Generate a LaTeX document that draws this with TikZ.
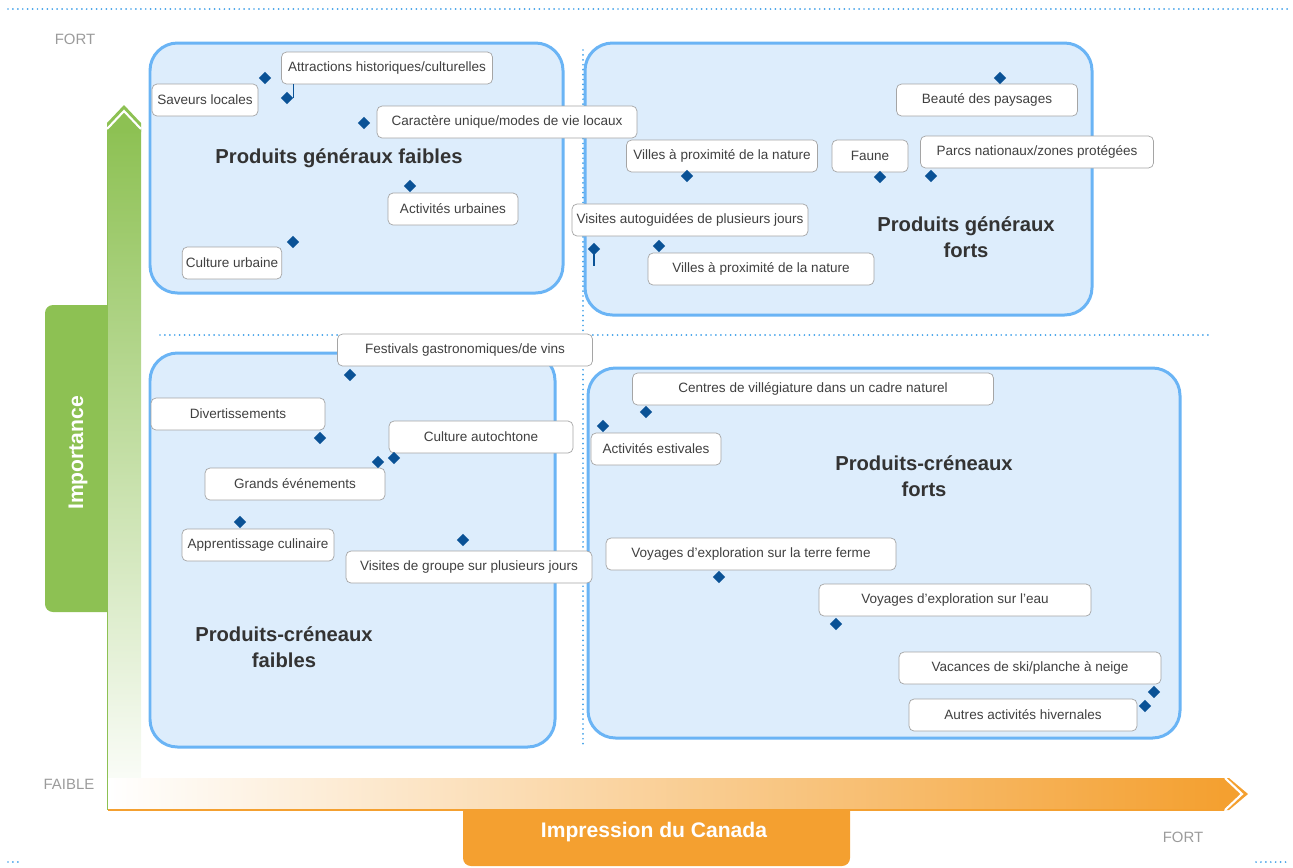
\documentclass[tikz,border=0pt]{standalone}
\usepackage{fontspec}
\setmainfont{Liberation Sans}
\usetikzlibrary{shapes.geometric}
\definecolor{quadfill}{RGB}{221,237,252}
\definecolor{quadline}{RGB}{106,180,245}
\definecolor{dotblue}{RGB}{64,160,232}
\definecolor{markblue}{RGB}{10,82,150}
\definecolor{lblline}{RGB}{165,165,165}
\definecolor{lbltext}{RGB}{64,64,64}
\definecolor{titlegray}{RGB}{51,51,51}
\definecolor{axgreen}{RGB}{141,193,83}
\definecolor{axorange}{RGB}{244,160,48}
\definecolor{axgray}{RGB}{155,155,155}

\begin{document}
\begin{tikzpicture}[x=0.02cm, y=-0.02cm,
    quad/.style={draw=quadline, line width=1.7pt, fill=quadfill, rounded corners=0.55cm},
    sep/.style={dotblue, line width=1.1pt, dash pattern=on 0pt off 2.8pt, line cap=round},
    lbl/.style={draw=lblline, fill=white, rounded corners=0.1cm, minimum height=0.64cm,
      inner xsep=2pt, text=lbltext, font=\fontsize{7.7}{9}\selectfont},
    dmd/.style={diamond, fill=markblue, inner sep=0pt, minimum size=0.25cm},
    lead/.style={markblue, line width=1pt},
    ttl/.style={align=center, text=titlegray, font=\fontsize{11.5}{14.7}\selectfont\bfseries},
    axtxt/.style={text=white, font=\fontsize{12}{14}\selectfont\bfseries},
    gradelbl/.style={text=axgray, font=\fontsize{8.5}{10}\selectfont}]
    \useasboundingbox (0,0) rectangle (1293,867);

    \draw[sep] (8,9) -- (1290,9);
    \draw[sep] (8,862) -- (20,862);
    \draw[sep] (1256,862) -- (1290,862);

    \fill[axgreen, rounded corners=0.16cm] (45,305) rectangle (115,612);
    \fill[axorange, rounded corners=0.16cm] (463,800) rectangle (850,866);
    \shade[top color=axgreen, bottom color=white] (107,128) rectangle (141,810);
    \draw[axgreen, line width=1pt] (107.5,128) -- (107.5,810);
    \fill[axgreen] (107,132) -- (107,123) -- (124,105) -- (141,123) -- (141,132) -- cycle;
    \draw[white, line width=1.2pt] (107,129) -- (124,111) -- (141,129);
    \shade[left color=white, right color=axorange] (108,778) rectangle (1224,810);
    \draw[axorange, line width=1pt] (108,810) -- (1224,810);
    \fill[axorange] (1220,778) -- (1229,778) -- (1248,794) -- (1229,810) -- (1220,810) -- cycle;
    \draw[white, line width=1.2pt] (1225,778) -- (1242,794) -- (1225,810);

    \node[gradelbl] (fortv) at (75,39) {FORT};
    \node[gradelbl] (faible) at (69,784) {FAIBLE};
    \node[gradelbl] (forth) at (1183,837) {FORT};
    \node[axtxt, rotate=90] (imp) at (78,453) {Importance};
    \node[axtxt] (impr) at (654,832) {Impression du Canada};

    \draw[quad] (150,43) rectangle (563,293);
    \draw[quad] (585,43) rectangle (1092,315);
    \draw[quad] (150,353) rectangle (555,747);
    \draw[quad] (588,368) rectangle (1180,738);

    \draw[sep] (160,335) -- (1212,335);
    \draw[sep] (583,50) -- (583,745);

    \node[ttl] (tgfaib) at (339,158) {Produits généraux faibles};
    \node[ttl] (tgfort) at (966,237) {Produits généraux\\forts};
    \node[ttl] (tcfaib) at (284,647) {Produits-créneaux\\faibles};
    \node[ttl] (tcfort) at (924,476) {Produits-créneaux\\forts};

    \node[lbl, minimum width=4.22cm] (attr) at (387,68) {Attractions historiques/culturelles};
    \node[lbl, minimum width=2.12cm] (saveurs) at (205,100) {Saveurs locales};
    \node[lbl, minimum width=5.2cm] (caract) at (507,122) {Caractère unique/modes de vie locaux};
    \node[lbl, minimum width=2.6cm] (urbact) at (453,209) {Activités urbaines};
    \node[lbl, minimum width=1.96cm] (urbcult) at (232,263) {Culture urbaine};
    \node[lbl, minimum width=3.62cm] (beaute) at (987,100) {Beauté des paysages};
    \node[lbl, minimum width=3.82cm] (villesa) at (722,156) {Villes à proximité de la nature};
    \node[lbl, minimum width=1.52cm] (faune) at (870,156) {Faune};
    \node[lbl, minimum width=4.66cm] (parcs) at (1037,152) {Parcs nationaux/zones protégées};
    \node[lbl, minimum width=4.72cm] (visauto) at (690,220) {Visites autoguidées de plusieurs jours};
    \node[lbl, minimum width=4.52cm] (villesb) at (761,269) {Villes à proximité de la nature};
    \node[lbl, minimum width=5.1cm] (festiv) at (465,350) {Festivals gastronomiques/de vins};
    \node[lbl, minimum width=3.48cm] (divert) at (238,414) {Divertissements};
    \node[lbl, minimum width=3.68cm] (autoch) at (481,437) {Culture autochtone};
    \node[lbl, minimum width=3.6cm] (grands) at (295,484) {Grands événements};
    \node[lbl, minimum width=3.04cm] (culin) at (258,545) {Apprentissage culinaire};
    \node[lbl, minimum width=4.92cm] (visgroupe) at (469,567) {Visites de groupe sur plusieurs jours};
    \node[lbl, minimum width=7.22cm] (centres) at (813,389) {Centres de villégiature dans un cadre naturel};
    \node[lbl, minimum width=2.6cm] (estiv) at (656,449) {Activités estivales};
    \node[lbl, minimum width=5.8cm] (terre) at (751,554) {Voyages d’exploration sur la terre ferme};
    \node[lbl, minimum width=5.44cm] (eau) at (955,600) {Voyages d’exploration sur l’eau};
    \node[lbl, minimum width=5.24cm] (ski) at (1030,668) {Vacances de ski/planche à neige};
    \node[lbl, minimum width=4.56cm] (hiver) at (1023,715) {Autres activités hivernales};

    \node[dmd] (msaveurs) at (265,78) {};
    \node[dmd] (mattr) at (287,98) {};
    \node[dmd] (mcaract) at (364,123) {};
    \node[dmd] (murbact) at (410,186) {};
    \node[dmd] (murbcult) at (293,242) {};
    \node[dmd] (mbeaute) at (1000,78) {};
    \node[dmd] (mvillesa) at (687,176) {};
    \node[dmd] (mfaune) at (880,177) {};
    \node[dmd] (mparcs) at (931,176) {};
    \node[dmd] (mvisauto) at (594,249) {};
    \node[dmd] (mvillesb) at (659,246) {};
    \node[dmd] (mfestiv) at (350,375) {};
    \node[dmd] (mdivert) at (320,438) {};
    \node[dmd] (mautoch) at (394,458) {};
    \node[dmd] (mgrands) at (378,462) {};
    \node[dmd] (mculin) at (240,522) {};
    \node[dmd] (mvisgroupe) at (463,540) {};
    \node[dmd] (mcentres) at (646,412) {};
    \node[dmd] (mestiv) at (603,426) {};
    \node[dmd] (mterre) at (719,577) {};
    \node[dmd] (meau) at (836,624) {};
    \node[dmd] (mski) at (1154,692) {};
    \node[dmd] (mhiver) at (1145,706) {};

    \coordinate (tattr) at (mattr.east |- attr.south);
    \coordinate (tvisauto) at (594,266);
    \draw[lead] (mattr.east) -- (tattr);
    \draw[lead] (mvisauto.center) -- (tvisauto);
\end{tikzpicture}
\end{document}
